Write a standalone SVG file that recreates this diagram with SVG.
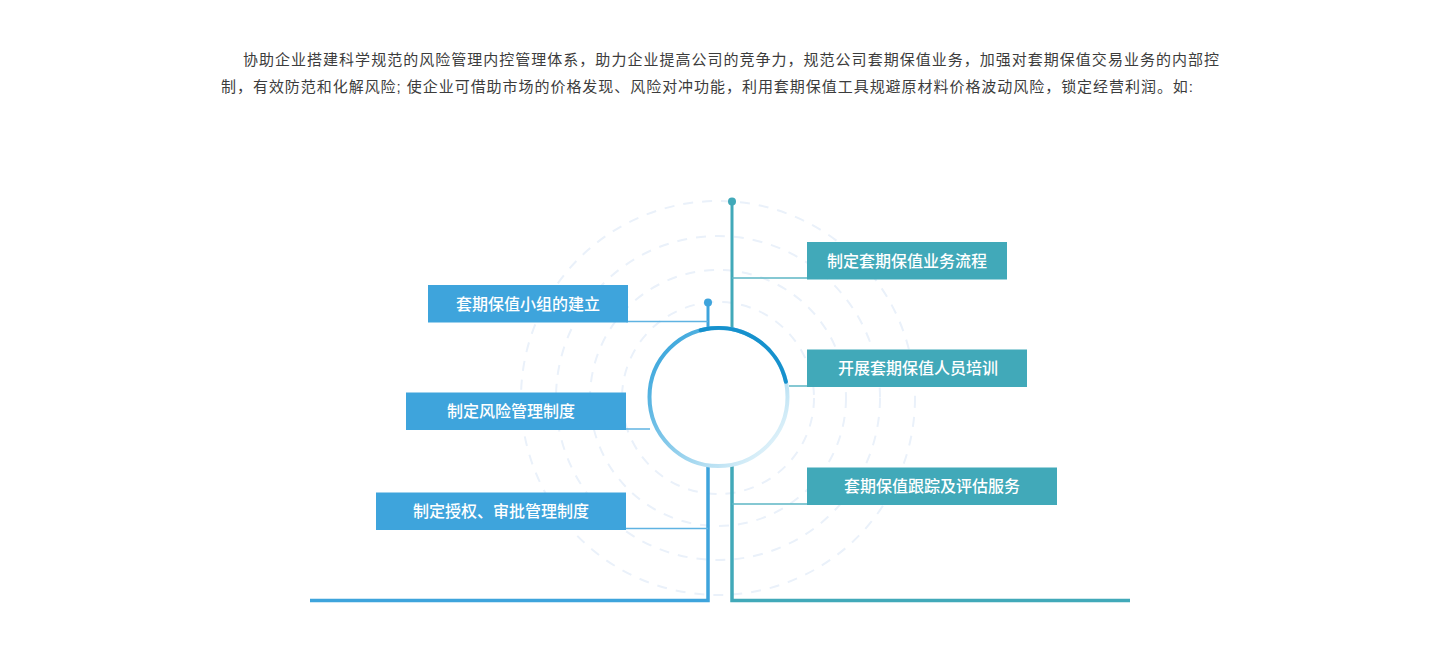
<svg xmlns="http://www.w3.org/2000/svg" width="1440" height="650" viewBox="0 0 1440 650">
  <defs>
    <style>
      .para { font-family: "Liberation Sans", "Noto Sans CJK SC", sans-serif; font-size: 15px; fill: #3c3c3c; }
      .lbl { font-family: "Noto Sans CJK SC", "Noto Sans", sans-serif; font-size: 16px; font-weight: 500; fill: #ffffff; text-anchor: middle; }
      .boxL { fill: #3ea4dc; }
      .boxR { fill: #41a9b9; }
      .lineL { stroke: #3ea4dc; fill: none; }
      .lineR { stroke: #41a9b9; fill: none; }
      .conL { stroke: #5fb3e2; stroke-width: 1.5; fill: none; }
      .conR { stroke: #5db6c4; stroke-width: 1.5; fill: none; }
      .ring { fill: none; stroke: #eaf1fa; stroke-width: 2; stroke-dasharray: 10 9; }
    </style>
    <linearGradient id="ringGrad" x1="0" y1="0.2" x2="0.9" y2="1">
      <stop offset="0" stop-color="#3aa6dc"/>
      <stop offset="0.55" stop-color="#9ad3ee"/>
      <stop offset="1" stop-color="#eef8fc"/>
    </linearGradient>
  </defs>

  <rect width="1440" height="650" fill="#ffffff"/>

  <g id="intro">
    <text class="para" x="243" y="65" textLength="976" lengthAdjust="spacing">协助企业搭建科学规范的风险管理内控管理体系，助力企业提高公司的竞争力，规范公司套期保值业务，加强对套期保值交易业务的内部控</text>
    <text class="para" x="221" y="92" textLength="972" lengthAdjust="spacing">制，有效防范和化解风险; 使企业可借助市场的价格发现、风险对冲功能，利用套期保值工具规避原材料价格波动风险，锁定经营利润。如:</text>
  </g>

  <g id="rings">
    <circle class="ring" cx="718" cy="398" r="96" stroke-dasharray="10 9 10 9 10 9 10 9 10 30"/>
    <circle class="ring" cx="718" cy="398" r="128" stroke-dasharray="10 10 10 10 10 10 10 10 10 50"/>
    <circle class="ring" cx="718" cy="398" r="162" stroke-dasharray="10 9 10 9 10 9 10 9 10 70"/>
    <circle class="ring" cx="718" cy="398" r="197" stroke-dasharray="10 9 10 9 10 9 10 9 10 9 10 100"/>
  </g>

  <g id="connectors">
    <line class="lineL" x1="708" y1="303" x2="708" y2="331" stroke-width="3"/>
    <circle cx="708" cy="302.5" r="4" fill="#3ea4dc"/>
    <path class="lineL" d="M708,465 L708,600.5 L310,600.5" stroke-width="3.5"/>
    <line class="lineR" x1="732" y1="201" x2="732" y2="330" stroke-width="3"/>
    <circle cx="732" cy="201.5" r="4" fill="#41a9b9"/>
    <path class="lineR" d="M732,466 L732,600.5 L1130,600.5" stroke-width="3.5"/>
    <line class="conL" x1="626" y1="321.5" x2="708" y2="321.5"/>
    <line class="conL" x1="624" y1="429" x2="650" y2="429"/>
    <line class="conL" x1="624" y1="528.5" x2="708" y2="528.5"/>
    <line class="conR" x1="732" y1="278" x2="809" y2="278"/>
    <line class="conR" x1="789" y1="386" x2="809" y2="386"/>
    <line class="conR" x1="732" y1="504" x2="809" y2="504"/>
  </g>

  <g id="hub">
    <circle cx="718.5" cy="397" r="69" fill="#ffffff" stroke="url(#ringGrad)" stroke-width="4"/>
    <path d="M700.6,330.3 A69,69 0 0 1 785.9,381.8" fill="none" stroke="#1691cd" stroke-width="4" stroke-linecap="round"/>
  </g>

  <g id="node-group">
    <rect class="boxL" x="428" y="285" width="200" height="37.5"/>
    <text class="lbl" x="528" y="309.5">套期保值小组的建立</text>
  </g>
  <g id="node-risk">
    <rect class="boxL" x="406" y="392.5" width="220" height="37.5"/>
    <text class="lbl" x="511" y="417">制定风险管理制度</text>
  </g>
  <g id="node-auth">
    <rect class="boxL" x="376" y="492.5" width="250" height="37.5"/>
    <text class="lbl" x="501" y="517">制定授权、审批管理制度</text>
  </g>
  <g id="node-flow">
    <rect class="boxR" x="807" y="242" width="200" height="37.5"/>
    <text class="lbl" x="907" y="266.5">制定套期保值业务流程</text>
  </g>
  <g id="node-train">
    <rect class="boxR" x="807" y="349.5" width="220" height="37.5"/>
    <text class="lbl" x="918" y="374">开展套期保值人员培训</text>
  </g>
  <g id="node-track">
    <rect class="boxR" x="807" y="467.5" width="250" height="37.5"/>
    <text class="lbl" x="932" y="492">套期保值跟踪及评估服务</text>
  </g>
</svg>
